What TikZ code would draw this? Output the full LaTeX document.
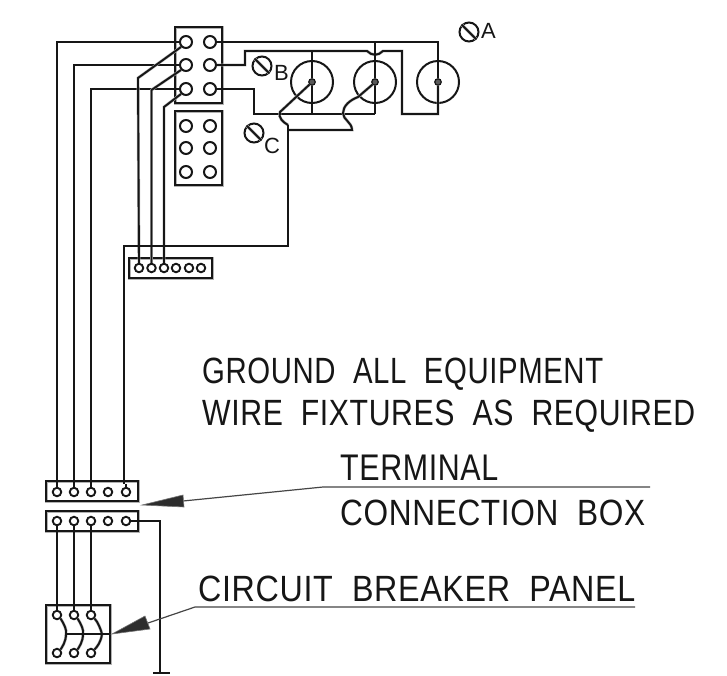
\documentclass[tikz,border=0pt]{standalone}
\usepackage{fontspec}
\usepackage{graphicx}
\setmainfont{Liberation Sans}
\usetikzlibrary{calc}
\definecolor{ink}{HTML}{161616}
\newfontfamily\cadfont[LetterSpace=2,WordSpace=2]{Liberation Sans}
\newcommand{\cadtext}[2]{\resizebox{#1pt}{25.5pt}{\cadfont #2}}
\tikzset{
  wire/.style={draw=ink,line width=1.9pt,line join=miter,preaction={draw=gray!60,line width=2.9pt}},
  thinw/.style={draw=ink,line width=1.4pt},
  boxp/.style={draw=ink,line width=2pt,preaction={draw=gray!60,line width=3pt}},
  term/.style={circle,draw=ink,line width=2pt,minimum size=12pt,inner sep=0pt,fill=white},
  smallterm/.style={circle,draw=ink,line width=1.9pt,minimum size=8.5pt,inner sep=0pt,fill=white},
  lamp/.style={circle,draw=ink,line width=2pt,minimum size=42pt,inner sep=0pt},
  hub/.style={circle,draw=ink,fill=gray!70!black,line width=1.2pt,minimum size=6.5pt,inner sep=0pt},
  screw/.style={circle,draw=ink,line width=2pt,minimum size=19pt,inner sep=0pt},
  lab/.style={text=ink,inner sep=0pt,anchor=base west},
  letter/.style={font=\fontsize{22}{22}\selectfont,text=ink,inner sep=0pt,anchor=base west},
  leader/.style={draw=ink!80,line width=1.2pt},
  barb/.style={fill=ink!90,draw=ink!60,line width=.6pt}
}
\begin{document}
\begin{tikzpicture}[x=1pt,y=-1pt]
\useasboundingbox (0,0) rectangle (727,675);
\fill[white] (0,0) rectangle (727,675);
% boxes
\draw[boxp] (175,27) rectangle (222,103);
\draw[boxp] (175,111) rectangle (222,185);
\draw[boxp] (129,258) rectangle (212,278);
\draw[boxp] (46,481) rectangle (138,501);
\draw[boxp] (46,511) rectangle (138,531);
\draw[boxp] (46,605) rectangle (110,663);
% terminals
\foreach \n/\y in {a/42,b/65,c/89,d/126,e/148,f/172}{
  \node[term] (l\n) at (186,\y) {};
  \node[term] (r\n) at (210,\y) {};
}
\foreach \i/\x in {1/139,2/151.5,3/164,4/176,5/189,6/201}
  \node[smallterm] (s\i) at (\x,268) {};
\foreach \i/\x in {1/57,2/74,3/91,4/108,5/126}{
  \node[smallterm] (u\i) at (\x,492) {};
  \node[smallterm] (v\i) at (\x,521) {};
}
\foreach \i/\x in {1/57,2/74,3/91}{
  \node[smallterm] (bt\i) at (\x,615) {};
  \node[smallterm] (bb\i) at (\x,653) {};
}
% lamps
\foreach \n/\x in {1/312,2/375,3/438}{
  \node[lamp] (lamp\n) at (\x,82) {};
  \node[hub] (hub\n) at (\x,82) {};
}
% long wires to the terminal box
\draw[wire] (la.west) -| (u1.north);
\draw[wire] (lb.west) -| (u2.north);
\draw[wire] (lc.west) -| (u3.north);
% slanted wires to the strip
\draw[wire] (la.south west) -- (138,78) -- (s1.north);
\draw[wire] (lb.south west) -- (151.5,90) -- (s2.north);
\draw[wire] (lc.south west) -- (164,107) -- (s3.north);
% lamp wiring
\coordinate (jog) at (288,125);
\coordinate (jA) at (375,42);
\draw[wire] (ra.east) -- (438,42) -- (hub3.north);
\draw[wire] (hub3.south) -- (438,114) -- (402,114) -- (402,51) -- (383,51)
   .. controls (378,56) and (372,56) .. (367,51) -- (245,51) -- (245,65) -- (rb.east);
\draw[wire] (rc.east) -- (254,89) -- (254,114) -- (375,114);
\draw[wire] (jA) -- (hub2.north);
\draw[wire] (hub2.south) -- (375,114);
\draw[wire] (312,51) -- (hub1.north);
\draw[wire] (hub1.south) -- (312,114);
\draw[wire] (hub1.south west) -- (280,112) .. controls (278,118) and (283,122) .. (jog);
\draw[wire] (hub2.south west) -- (358,97) .. controls (350,100) and (343,106) .. (343,113)
   .. controls (343,120) and (352,122) .. (352,130) -- (288,130);
\draw[wire] (jog) -- (288,246) -- (124,246) -- (124,484);
\draw[wire] (u5.north) -- (126,484);
% panel to breaker
\draw[wire] (v1.south) -- (bt1.north);
\draw[wire] (v2.south) -- (bt2.north);
\draw[wire] (v3.south) -- (bt3.north);
\coordinate (grd) at (160,673);
\draw[wire] (v5.east) -- (160,521) -- (grd);
\draw[wire] (153,673) -- (170,673);
% breaker arcs
\draw[wire] (bt1.south east) .. controls (64,624) and (67,630) .. (66,634) .. controls (66,642) and (62,647) .. (bb1.north east);
\draw[wire] (bt2.south east) .. controls (81,624) and (84,630) .. (83,634) .. controls (83,642) and (79,647) .. (bb2.north east);
\draw[wire] (bt3.south east) .. controls (98,622) and (101,630) .. (102,634) .. controls (101,642) and (97,647) .. (bb3.north east);
\draw[thinw] (66,634) -- (110,634);
% screws
\foreach \n/\x/\y in {A/469/32,B/262/66,C/254/133}{
  \node[screw] (sc\n) at (\x,\y) {};
  \draw[wire] (sc\n.north west) -- (sc\n.south east);
}
\node[letter] (tA) at (481,38) {A};
\node[letter] (tB) at (274,80) {B};
\node[letter] (tC) at (264,153) {C};
% labels
\node[lab] (t1) at (202,383) {\cadtext{401}{GROUND ALL EQUIPMENT}};
\node[lab] (t2) at (202,425) {\cadtext{493}{WIRE FIXTURES AS REQUIRED}};
\node[lab] (t3) at (340,480) {\cadtext{158}{TERMINAL}};
\node[lab] (t4) at (340,525) {\cadtext{305}{CONNECTION BOX}};
\node[lab] (t5) at (198,601) {\cadtext{437}{CIRCUIT BREAKER PANEL}};
% leaders
\coordinate (e1) at (650,487);
\coordinate (k1) at (323,487);
\coordinate (a1) at (142,505);
\coordinate (a1b) at (183,501);
\draw[leader] (e1) -- (k1) -- (a1b);
\fill[barb] (a1) -- (183,495) -- (184,507) -- cycle;
\coordinate (e2) at (635,607);
\coordinate (k2) at (195,607);
\coordinate (a2) at (112,634);
\coordinate (a2b) at (148,623);
\draw[leader] (e2) -- (k2) -- (a2b);
\fill[barb] (a2) -- (145,616) -- (150,629) -- cycle;
\end{tikzpicture}
\end{document}
